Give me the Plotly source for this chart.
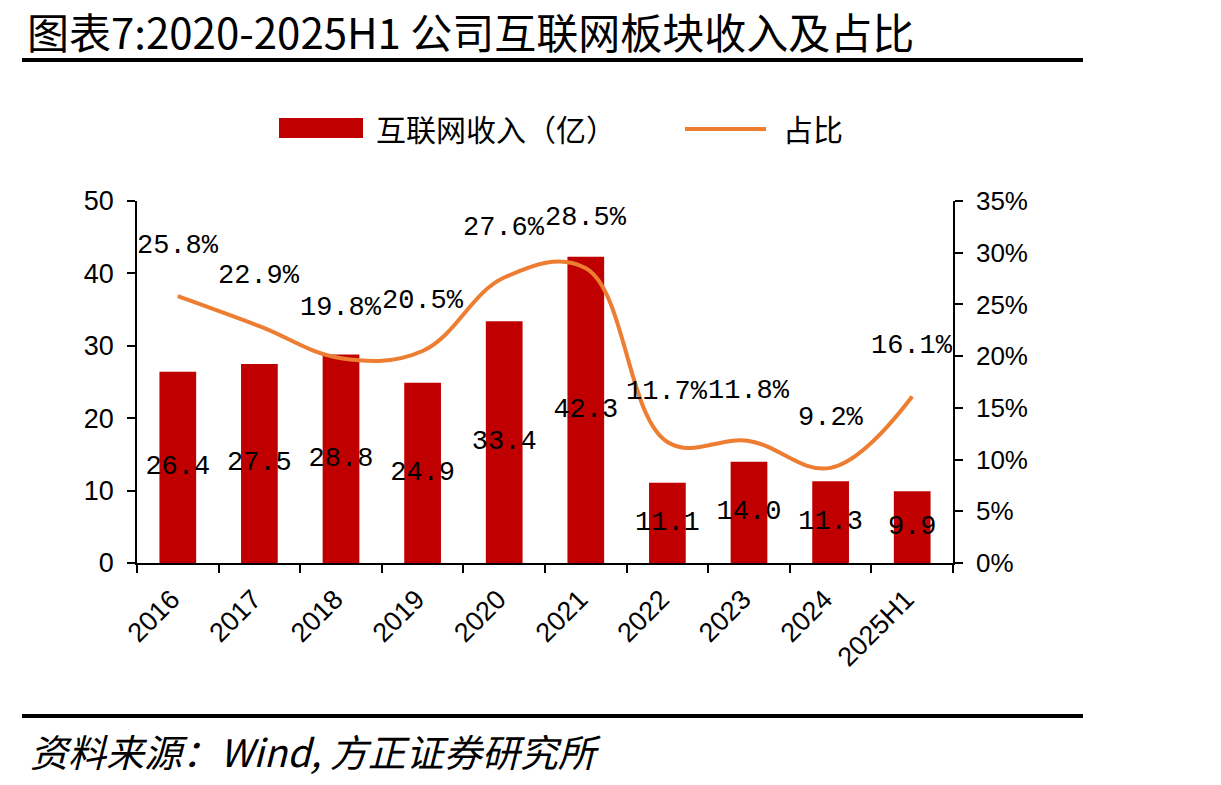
import plotly.graph_objects as go

categories = ["2016", "2017", "2018", "2019", "2020", "2021", "2022", "2023", "2024", "2025H1"]
revenue = [26.4, 27.5, 28.8, 24.9, 33.4, 42.3, 11.1, 14.0, 11.3, 9.9]
share = [0.258, 0.229, 0.198, 0.205, 0.276, 0.285, 0.117, 0.118, 0.092, 0.161]

BAR_COLOR = "#C00000"
LINE_COLOR = "#ED7D31"
CJK = "Noto Sans CJK SC"
LAT = "Liberation Sans, Arial"
MONO = "Liberation Mono, DejaVu Sans Mono"

W, H = 1221, 785
L, R, T, B = 137, 953, 201, 563


def px(x):
    return (x - L) / (R - L)


def py(y):
    return (B - y) / (B - T)


fig = go.Figure()
fig.add_trace(go.Bar(
    x=categories, y=revenue, name="互联网收入（亿）",
    marker=dict(color=BAR_COLOR, line=dict(width=0)),
    text=[f"{v:.1f}" for v in revenue],
    textposition="inside", insidetextanchor="middle", textangle=0,
    constraintext="none",
    textfont=dict(family=MONO, size=27, color="black"),
    showlegend=False,
))
fig.add_trace(go.Scatter(
    x=categories, y=share, name="占比", yaxis="y2", mode="lines",
    line=dict(color=LINE_COLOR, width=4, shape="spline", smoothing=1.1),
    showlegend=False,
))

annotations = []
for i, s in enumerate(share):
    annotations.append(dict(
        x=i, y=s, xref="x", yref="y2", text=f"{s*100:.1f}%", showarrow=False,
        yshift=50, font=dict(family=MONO, size=27, color="black"),
    ))

annotations += [
    dict(x=px(25), y=py(30), xref="paper", yref="paper",
         text="图表7:2020-2025H1 公司互联网板块收入及占比",
         showarrow=False, xanchor="left", yanchor="middle",
         font=dict(family=CJK, size=42, color="black")),
    dict(x=px(374), y=py(128), xref="paper", yref="paper", text="互联网收入（亿）",
         showarrow=False, xanchor="left", yanchor="middle",
         font=dict(family=CJK, size=30, color="black")),
    dict(x=px(781), y=py(128), xref="paper", yref="paper", text="占比",
         showarrow=False, xanchor="left", yanchor="middle",
         font=dict(family=CJK, size=30, color="black")),
    dict(x=px(28), y=py(750), xref="paper", yref="paper",
         text="<i>资料来源：Wind, 方正证券研究所</i>",
         showarrow=False, xanchor="left", yanchor="middle",
         font=dict(family=CJK, size=38, color="black")),
]

shapes = [
    dict(type="line", xref="paper", yref="paper", x0=px(22), x1=px(1083), y0=py(60), y1=py(60),
         line=dict(color="black", width=4)),
    dict(type="line", xref="paper", yref="paper", x0=px(22), x1=px(1083), y0=py(716), y1=py(716),
         line=dict(color="black", width=4)),
    dict(type="rect", xref="paper", yref="paper", x0=px(279), x1=px(363), y0=py(118), y1=py(138),
         fillcolor=BAR_COLOR, line=dict(width=0)),
    dict(type="line", xref="paper", yref="paper", x0=px(685), x1=px(766), y0=py(129), y1=py(129),
         line=dict(color=LINE_COLOR, width=4)),
]

fig.update_layout(
    width=W, height=H,
    margin=dict(l=L, r=W - R, t=T, b=H - B, pad=0),
    paper_bgcolor="white", plot_bgcolor="white",
    bargap=0.55,
    xaxis=dict(
        type="category", range=[-0.5, len(categories) - 0.5],
        showline=True, linecolor="black", linewidth=1.5,
        ticks="outside", tickson="boundaries", ticklen=8, tickcolor="black", tickwidth=1.5,
        tickangle=-45, tickfont=dict(family=LAT, size=27, color="black"),
        ticklabelstandoff=8, ticklabelshift=-6,
        showgrid=False, zeroline=False,
    ),
    yaxis=dict(
        range=[0, 50], dtick=10, showline=True, linecolor="black", linewidth=1.5,
        ticks="outside", ticklen=8, tickcolor="black", tickwidth=1.5,
        tickfont=dict(family=LAT, size=27, color="black"), ticklabelstandoff=8,
        showgrid=False, zeroline=False,
    ),
    yaxis2=dict(
        range=[0, 0.35], dtick=0.05, tickformat=".0%", overlaying="y", side="right",
        showline=True, linecolor="black", linewidth=1.5,
        ticks="outside", ticklen=8, tickcolor="black", tickwidth=1.5,
        tickfont=dict(family=LAT, size=26, color="black"), ticklabelstandoff=8,
        showgrid=False, zeroline=False,
    ),
    annotations=annotations,
    shapes=shapes,
    showlegend=False,
)

fig.write_html("out.html")
